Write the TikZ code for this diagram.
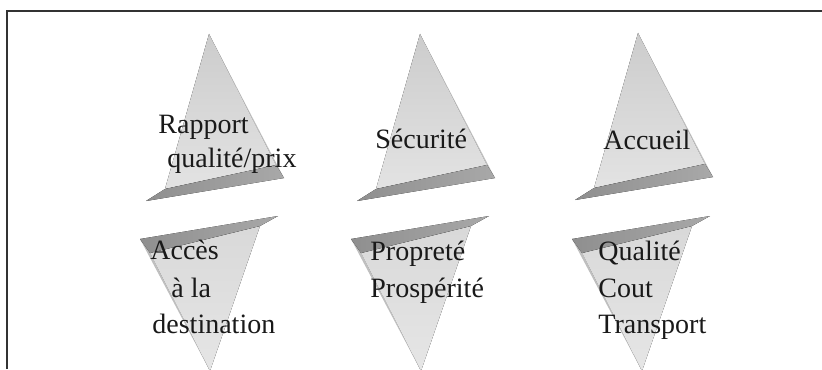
\documentclass[tikz,border=0pt]{standalone}
\usepackage{fontspec}
\setmainfont{Liberation Serif}
\begin{document}
\begin{tikzpicture}[x=0.5pt,y=-0.5pt,
  facecol/.style={top color=black!20,bottom color=black!11,draw=none},
  bevelcol/.style={fill=black!25,draw=none},
  bandcol/.style={left color=black!44,right color=black!34,draw=none},
  bfacecol/.style={top color=black!15,bottom color=black!10,draw=none},
  label/.style={anchor=base west,inner sep=0pt,text=black!90,
    font=\fontsize{14}{14}\selectfont},
  frameline/.style={line width=1pt,draw=black!80}]
\useasboundingbox (0,0) rectangle (822,369);

% open frame: top and left rules
\draw[frameline] (7,369) -- (7,11) -- (822,11);

% pyramid pointing up, apex at (#1,#2)
\newcommand\pyrup[2]{%
  \begin{scope}[shift={(#1,#2)}]
    \fill[facecol] (0,0) -- (-44,155) -- (67,131) -- cycle;
    \fill[bevelcol] (0,0) -- (67,131) -- (75,144) -- cycle;
    \fill[bandcol] (-63,167) -- (75,144) -- (67,131) -- (-44,155) -- cycle;
  \end{scope}}
% pyramid pointing down, apex at (#1,#2)
\newcommand\pyrdown[2]{%
  \begin{scope}[shift={(#1,#2)}]
    \fill[bfacecol] (0,0) -- (-60,-118) -- (50,-145) -- cycle;
    \fill[bevelcol] (0,0) -- (-60,-118) -- (-70,-132) -- cycle;
    \fill[bandcol] (-70,-132) -- (68,-155) -- (50,-145) -- (-60,-118) -- cycle;
  \end{scope}}

\pyrup{209}{34}
\pyrup{420}{34}
\pyrup{638}{33}
\pyrdown{210}{371}
\pyrdown{421}{371}
\pyrdown{642}{371}

% labels, upper row
\node[label] (r1) at (158,133) {Rapport};
\node[label] (r2) at (167,167) {qualité/prix};
\node[label] (s1) at (375,148) {Sécurité};
\node[label] (a1) at (603,149) {Accueil};

% labels, lower row
\node[label] (d1) at (150,259) {Accès};
\node[label] (d2) at (171,297) {à la};
\node[label] (d3) at (152,333) {destination};
\node[label] (p1) at (370,260) {Propreté};
\node[label] (p2) at (370,297) {Prospérité};
\node[label] (q1) at (598,260) {Qualité};
\node[label] (q2) at (598,297) {Cout};
\node[label] (q3) at (598,333) {Transport};
\end{tikzpicture}
\end{document}
